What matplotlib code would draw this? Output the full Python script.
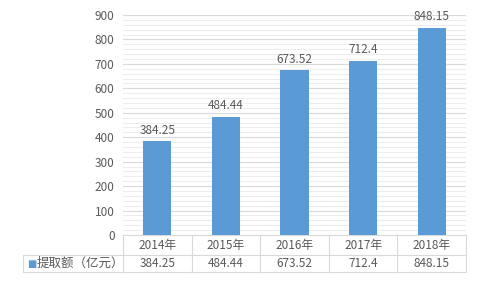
import matplotlib.pyplot as plt
from matplotlib.ticker import MultipleLocator
import matplotlib.transforms as mtransforms

plt.rcParams['font.family'] = ['Noto Sans CJK SC', 'DejaVu Sans']

years = ['2014年', '2015年', '2016年', '2017年', '2018年']
values = [384.25, 484.44, 673.52, 712.4, 848.15]
value_labels = ['384.25', '484.44', '673.52', '712.4', '848.15']
series_name = '提取额（亿元）'

bar_color = '#5B9BD5'
text_color = '#595959'
line_color = '#D9D9D9'

fig = plt.figure(figsize=(4.8, 2.88), dpi=100)
ax = fig.add_axes([0.256, 0.184, 0.715, 0.764])

x = range(len(years))
ax.bar(x, values, width=0.41, color=bar_color, zorder=3)
for i, v in enumerate(values):
    ax.text(i, v + 18, value_labels[i], ha='center', va='bottom',
            fontsize=8.5, color=text_color)

ax.set_xlim(-0.5, len(years) - 0.5)
ax.set_ylim(0, 900)
ax.yaxis.set_major_locator(MultipleLocator(100))
ax.yaxis.set_minor_locator(MultipleLocator(20))
ax.grid(axis='y', which='major', color='#D9D9D9', linewidth=0.8, zorder=0)
ax.grid(axis='y', which='minor', color='#EDEDED', linewidth=0.8, zorder=0)
ax.tick_params(axis='y', which='both', length=0, labelsize=8.5,
               labelcolor=text_color, pad=6)
ax.set_xticks([])
for s in ['top', 'right', 'left']:
    ax.spines[s].set_visible(False)
ax.spines['bottom'].set_color(line_color)

# data table under the chart
trans = mtransforms.blended_transform_factory(ax.transData, ax.transAxes)
row1 = -0.091
row2 = -0.168
label_left = -0.2915
kw = dict(color=line_color, linewidth=0.8, clip_on=False)
for i in range(len(years) + 1):
    ax.plot([i - 0.5, i - 0.5], [0, row2], transform=trans, **kw)
ax.plot([label_left, 1], [row1, row1], transform=ax.transAxes, **kw)
ax.plot([label_left, 1], [row2, row2], transform=ax.transAxes, **kw)
ax.plot([label_left, label_left], [row1, row2], transform=ax.transAxes, **kw)

for i in range(len(years)):
    ax.text(i, row1 / 2, years[i], transform=trans, ha='center', va='center',
            fontsize=8.5, color=text_color)
    ax.text(i, (row1 + row2) / 2, value_labels[i], transform=trans,
            ha='center', va='center', fontsize=8.5, color=text_color)

ax.text(label_left + 0.012, (row1 + row2) / 2, '■', transform=ax.transAxes,
        ha='left', va='center', fontsize=7, color=bar_color,
        family=['DejaVu Sans'])
ax.text(label_left + 0.04, (row1 + row2) / 2, series_name,
        transform=ax.transAxes, ha='left', va='center', fontsize=9,
        color=text_color)

fig.savefig('out.png', dpi=100)
